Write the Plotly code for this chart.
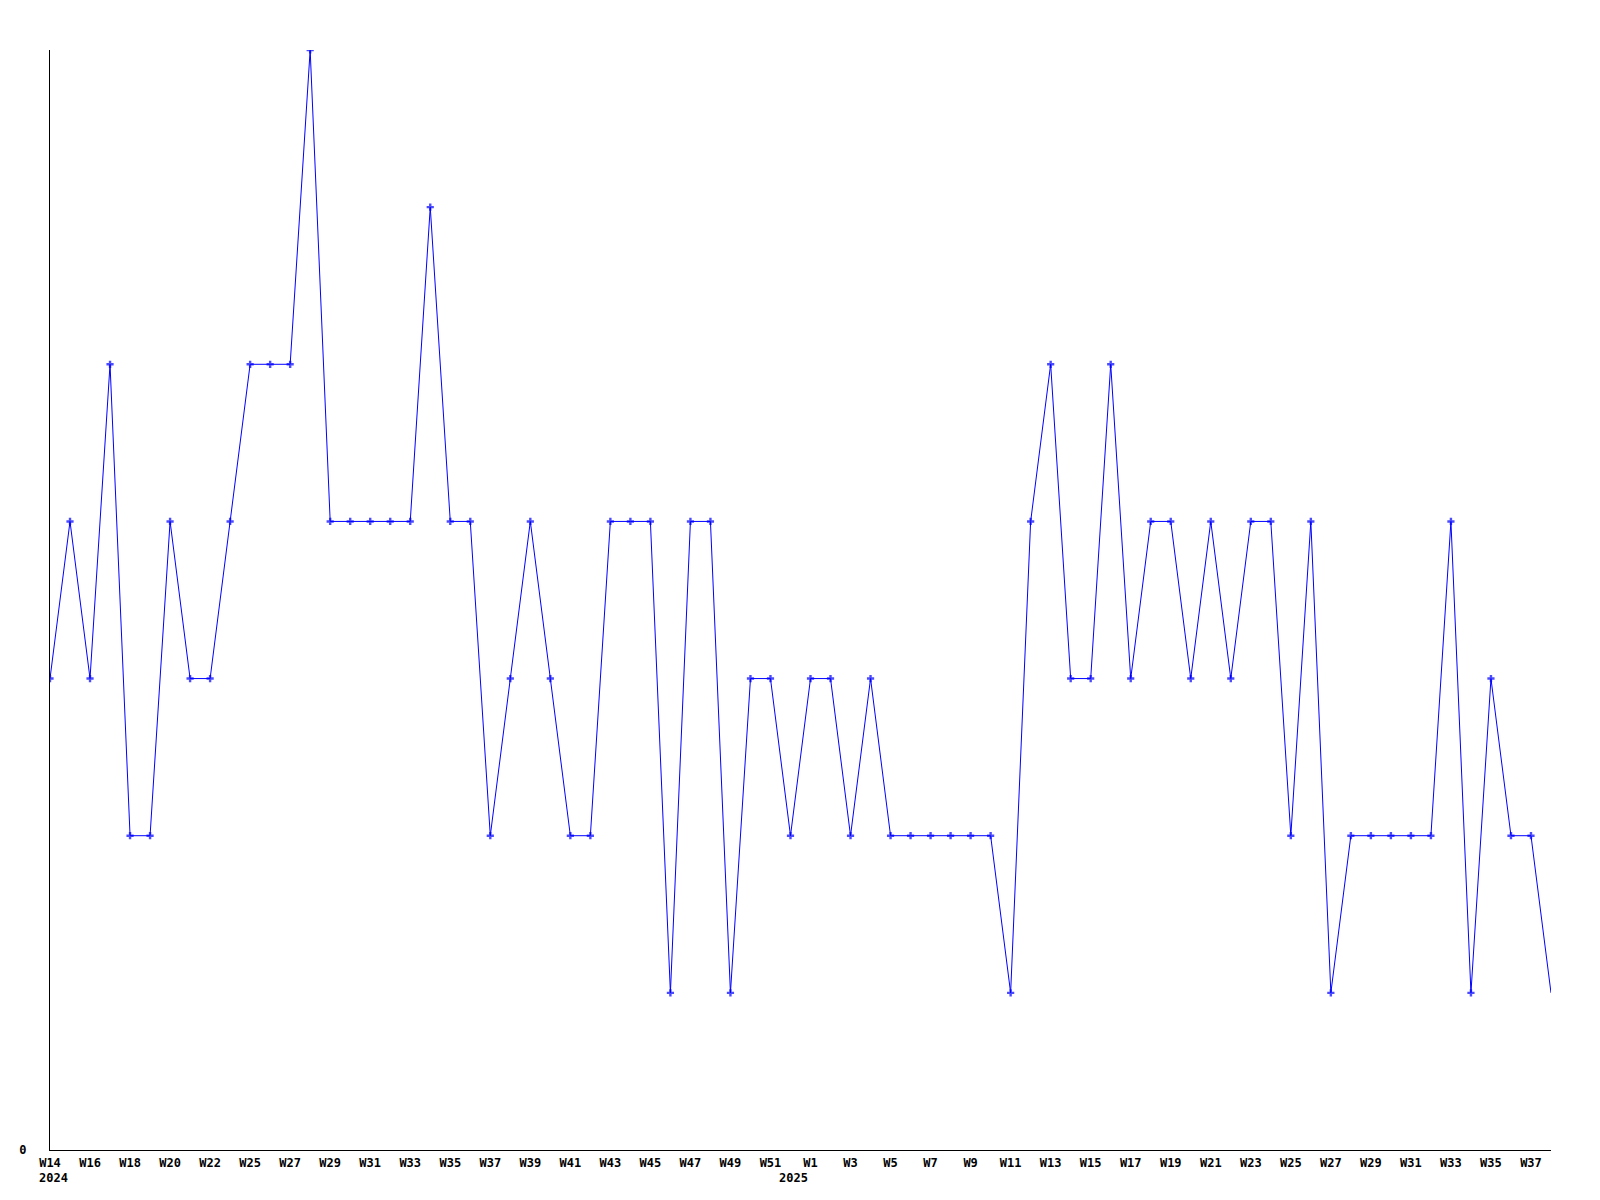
import plotly.graph_objects as go

# ISO-style week labels for each data point (one week skipped after W22 in the source)
weeks_2024 = ["2024-W%d" % w for w in [14, 15, 16, 17, 18, 19, 20, 21, 22, 24]] + \
             ["2024-W%d" % w for w in range(25, 53)]
weeks_2025 = ["2025-W%d" % w for w in range(1, 39)]
weeks = weeks_2024 + weeks_2025

values = [3, 4, 3, 5, 2, 2, 4, 3, 3, 4,
          5, 5, 5, 7, 4, 4, 4, 4, 4, 6,
          4, 4, 2, 3, 4, 3, 2, 2, 4, 4,
          4, 1, 4, 4, 1, 3, 3, 2, 3, 3,
          2, 3, 2, 2, 2, 2, 2, 2, 1, 4,
          5, 3, 3, 5, 3, 4, 4, 3, 4, 3,
          4, 4, 2, 4, 1, 2, 2, 2, 2, 2,
          4, 1, 3, 2, 2, 1]

tick_weeks = ["2024-W14", "2024-W16", "2024-W18", "2024-W20", "2024-W22", "2024-W25",
              "2024-W27", "2024-W29", "2024-W31", "2024-W33", "2024-W35", "2024-W37",
              "2024-W39", "2024-W41", "2024-W43", "2024-W45", "2024-W47", "2024-W49",
              "2024-W51", "2025-W1", "2025-W3", "2025-W5", "2025-W7", "2025-W9",
              "2025-W11", "2025-W13", "2025-W15", "2025-W17", "2025-W19", "2025-W21",
              "2025-W23", "2025-W25", "2025-W27", "2025-W29", "2025-W31", "2025-W33",
              "2025-W35", "2025-W37"]
tick_text = ["W14", "W16", "W18", "W20", "W22", "W25", "W27", "W29", "W31", "W33",
             "W35", "W37", "W39", "W41", "W43", "W45", "W47", "W49", "W51", "W1",
             "W3", "W5", "W7", "W9", "W11", "W13", "W15", "W17", "W19", "W21", "W23",
             "W25", "W27", "W29", "W31", "W33", "W35", "W37"]

years = ["2024", "2025"]
year_start_weeks = ["2024-W14", "2025-W1"]

marker_sizes = [6] * (len(values) - 1) + [0]

fig = go.Figure()
fig.add_trace(go.Scatter(
    x=weeks, y=values, mode="lines+markers",
    line=dict(color="#0000ff", width=1),
    marker=dict(symbol="cross", size=marker_sizes, color="#0000ff",
                line=dict(width=0)),
    showlegend=False, hoverinfo="x+y",
))

font = dict(family="DejaVu Sans Mono", size=12, color="black", weight="bold")

# year labels: first one under first week, later ones at the year boundary
for yr, wk in zip(years, year_start_weeks):
    idx = weeks.index(wk)
    xpos = idx + 0.17 if idx == 0 else idx - 0.85
    fig.add_annotation(x=xpos, y=0, xref="x", yref="paper", text=yr,
                       showarrow=False, yanchor="top", xanchor="center",
                       yshift=-19, font=font)

fig.update_layout(
    width=1600, height=1200,
    margin=dict(l=42, r=57, t=42, b=58),
    paper_bgcolor="white", plot_bgcolor="white",
    xaxis=dict(type="category", categoryorder="array", categoryarray=weeks,
               range=[0, len(weeks) - 1],
               tickmode="array", tickvals=tick_weeks, ticktext=tick_text,
               showgrid=False, zeroline=False, showline=True, linecolor="black",
               linewidth=1, ticks="outside", ticklen=2, tickcolor="rgba(0,0,0,0)",
               tickfont=font),
    yaxis=dict(range=[0, 7], tickmode="array", tickvals=[0], ticktext=["0"],
               showgrid=False, zeroline=False, showline=True, linecolor="black",
               linewidth=1, ticks="outside", ticklen=20, tickcolor="rgba(0,0,0,0)",
               tickfont=font),
)

fig.write_html("out.html")
